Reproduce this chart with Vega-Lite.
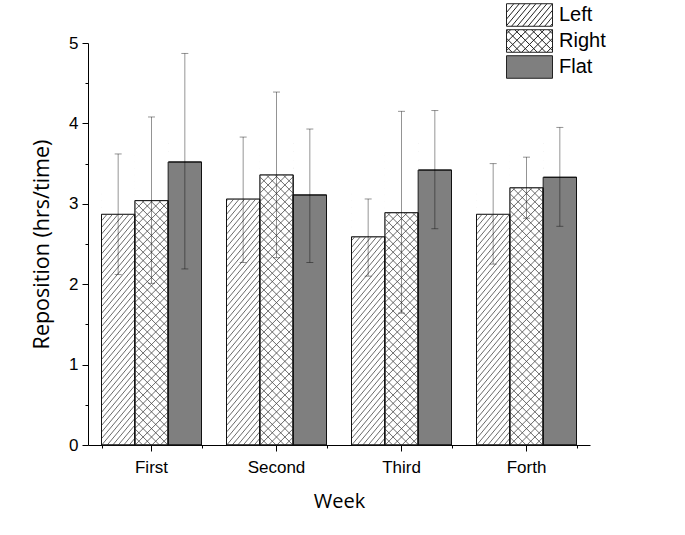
{
  "$schema": "https://vega.github.io/schema/vega-lite/v6.json",
  "width": 502,
  "height": 402,
  "autosize": {"type": "none"},
  "padding": {"left": 88, "top": 43, "right": 95, "bottom": 90},
  "background": "white",
  "config": {
    "view": {"stroke": null},
    "font": "Liberation Sans",
    "axis": {"grid": false, "domainColor": "#000", "tickColor": "#000", "labelColor": "#000", "titleColor": "#000", "labelFont": "Liberation Sans", "labelFontSize": 17, "titleFont": "Open Sans", "titleFontSize": 20, "titleFontWeight": "normal", "domainWidth": 1, "tickWidth": 1}
  },
  "data": {
    "values": [
      {"Week": "First", "Type": "Left", "Mean": 2.87, "Lo": 2.12, "Hi": 3.62},
      {"Week": "First", "Type": "Right", "Mean": 3.04, "Lo": 2.01, "Hi": 4.08},
      {"Week": "First", "Type": "Flat", "Mean": 3.52, "Lo": 2.19, "Hi": 4.87},
      {"Week": "Second", "Type": "Left", "Mean": 3.06, "Lo": 2.27, "Hi": 3.83},
      {"Week": "Second", "Type": "Right", "Mean": 3.36, "Lo": 2.33, "Hi": 4.39},
      {"Week": "Second", "Type": "Flat", "Mean": 3.11, "Lo": 2.27, "Hi": 3.93},
      {"Week": "Third", "Type": "Left", "Mean": 2.59, "Lo": 2.1, "Hi": 3.06},
      {"Week": "Third", "Type": "Right", "Mean": 2.89, "Lo": 1.64, "Hi": 4.15},
      {"Week": "Third", "Type": "Flat", "Mean": 3.42, "Lo": 2.69, "Hi": 4.16},
      {"Week": "Forth", "Type": "Left", "Mean": 2.87, "Lo": 2.25, "Hi": 3.5},
      {"Week": "Forth", "Type": "Right", "Mean": 3.2, "Lo": 2.82, "Hi": 3.58},
      {"Week": "Forth", "Type": "Flat", "Mean": 3.33, "Lo": 2.72, "Hi": 3.95}
    ]
  },
  "resolve": {"axis": {"x": "independent", "y": "independent"}},
  "layer": [
    {
      "mark": {"type": "bar", "stroke": "#111", "strokeWidth": 1},
      "encoding": {
        "x": {"field": "Week", "type": "nominal", "sort": ["First", "Second", "Third", "Forth"], "scale": {"paddingInner": 0.2, "paddingOuter": 0.108},
              "axis": {"orient": "bottom", "title": "Week", "labelAngle": 0, "tickSize": 6, "labelPadding": 8, "titlePadding": 16}},
        "xOffset": {"field": "Type", "type": "nominal", "sort": ["Left", "Right", "Flat"], "scale": {"domain": ["Left", "Right", "Flat"], "paddingInner": 0, "paddingOuter": 0}},
        "y": {"field": "Mean", "type": "quantitative", "scale": {"domain": [0, 5], "nice": false, "zero": true},
              "axis": {"orient": "left", "title": "Reposition (hrs/time)", "titleFontSize": 21.5, "values": [0, 1, 2, 3, 4, 5], "tickSize": 6, "labelPadding": 4, "titlePadding": 15}},
        "fill": {"field": "Type", "type": "nominal", "scale": {"domain": ["Left", "Right", "Flat"], "range": ["#ffffff", "#ffffff", "#7f7f7f"]},
                 "legend": {"title": null, "orient": "none", "legendX": 418, "legendY": -40, "symbolSize": 2116, "clipHeight": 24, "labelFontSize": 20, "labelFont": "Liberation Sans", "labelColor": "#000", "labelOffset": 6, "rowPadding": 2, "padding": 0, "symbolStrokeWidth": 1, "symbolStrokeColor": "#222",
                   "encode": {"symbols": {"update": {"stroke": {"value": "#222"}, "strokeWidth": {"value": 1}, "shape": {"signal": "datum.value === 'Left' ? 'M-1,-0.49H1V0.49H-1ZM-1,-0.11L-0.683,-0.49M-1,0.178L-0.443,-0.49M-1,0.466L-0.203,-0.49M-0.78,0.49L0.037,-0.49M-0.54,0.49L0.277,-0.49M-0.3,0.49L0.517,-0.49M-0.06,0.49L0.757,-0.49M0.18,0.49L0.997,-0.49M0.42,0.49L1,-0.206M0.66,0.49L1,0.082M0.9,0.49L1,0.37' : datum.value === 'Right' ? 'M-1,-0.49H1V0.49H-1ZM-1,-0.31L-0.82,-0.49M-1,0.055L-0.455,-0.49M-1,0.42L-0.09,-0.49M-0.705,0.49L0.275,-0.49M-0.34,0.49L0.64,-0.49M0.025,0.49L1,-0.485M0.39,0.49L1,-0.12M0.755,0.49L1,0.245M1,-0.31L0.82,-0.49M1,0.055L0.455,-0.49M1,0.42L0.09,-0.49M0.705,0.49L-0.275,-0.49M0.34,0.49L-0.64,-0.49M-0.025,0.49L-1,-0.485M-0.39,0.49L-1,-0.12M-0.755,0.49L-1,0.245' : 'M-1,-0.49H1V0.49H-1Z'"}}}}}}
      }
    },
    {
      "transform": [{"filter": "datum.Type === 'Left'"}],
      "mark": {"type": "point", "filled": false, "opacity": 1, "size": 4, "stroke": "#444", "strokeWidth": 0.8,
               "shape": "M-16.4,160.8l32.8,-39.36M-16.4,154.2l32.8,-39.36M-16.4,147.6l32.8,-39.36M-16.4,141l32.8,-39.36M-16.4,134.4l32.8,-39.36M-16.4,127.8l32.8,-39.36M-16.4,121.2l32.8,-39.36M-16.4,114.6l32.8,-39.36M-16.4,108l32.8,-39.36M-16.4,101.4l32.8,-39.36M-16.4,94.8l32.8,-39.36M-16.4,88.2l32.8,-39.36M-16.4,81.6l32.8,-39.36M-16.4,75l32.8,-39.36M-16.4,68.4l32.8,-39.36M-16.4,61.8l32.8,-39.36M-16.4,55.2l32.8,-39.36M-16.4,48.6l32.8,-39.36M-16.4,42l32.8,-39.36M-16.4,35.4l32.8,-39.36M-16.4,28.8l32.8,-39.36M-16.4,22.2l32.8,-39.36M-16.4,15.6l32.8,-39.36M-16.4,9l32.8,-39.36M-16.4,2.4l32.8,-39.36M-16.4,-4.2l32.8,-39.36M-16.4,-10.8l32.8,-39.36M-16.4,-17.4l32.8,-39.36M-16.4,-24l32.8,-39.36M-16.4,-30.6l32.8,-39.36M-16.4,-37.2l32.8,-39.36M-16.4,-43.8l32.8,-39.36M-16.4,-50.4l32.8,-39.36M-16.4,-57l32.8,-39.36M-16.4,-63.6l32.8,-39.36M-16.4,-70.2l32.8,-39.36M-16.4,-76.8l32.8,-39.36M-16.4,-83.4l32.8,-39.36M-16.4,-90l32.8,-39.36M-10.9,160.8l27.3,-32.76M-5.4,160.8l21.8,-26.16M0.1,160.8l16.3,-19.56M5.6,160.8l10.8,-12.96M11.1,160.8l5.3,-6.36"},
      "encoding": {
        "x": {"field": "Week", "type": "nominal", "sort": ["First", "Second", "Third", "Forth"], "scale": {"paddingInner": 0.2, "paddingOuter": 0.108}, "axis": null},
        "xOffset": {"field": "Type", "type": "nominal", "sort": ["Left", "Right", "Flat"], "scale": {"domain": ["Left", "Right", "Flat"], "paddingInner": 0, "paddingOuter": 0}},
        "y": {"datum": 2, "type": "quantitative", "axis": null}
      }
    },
    {
      "transform": [{"filter": "datum.Type === 'Right'"}],
      "mark": {"type": "point", "filled": false, "opacity": 1, "size": 4, "stroke": "#444", "strokeWidth": 0.8,
               "shape": "M-16.4,160.8l32.8,-32.8M-16.4,152.4l32.8,-32.8M-16.4,144l32.8,-32.8M-16.4,135.6l32.8,-32.8M-16.4,127.2l32.8,-32.8M-16.4,118.8l32.8,-32.8M-16.4,110.4l32.8,-32.8M-16.4,102l32.8,-32.8M-16.4,93.6l32.8,-32.8M-16.4,85.2l32.8,-32.8M-16.4,76.8l32.8,-32.8M-16.4,68.4l32.8,-32.8M-16.4,60l32.8,-32.8M-16.4,51.6l32.8,-32.8M-16.4,43.2l32.8,-32.8M-16.4,34.8l32.8,-32.8M-16.4,26.4l32.8,-32.8M-16.4,18l32.8,-32.8M-16.4,9.6l32.8,-32.8M-16.4,1.2l32.8,-32.8M-16.4,-7.2l32.8,-32.8M-16.4,-15.6l32.8,-32.8M-16.4,-24l32.8,-32.8M-16.4,-32.4l32.8,-32.8M-16.4,-40.8l32.8,-32.8M-16.4,-49.2l32.8,-32.8M-16.4,-57.6l32.8,-32.8M-16.4,-66l32.8,-32.8M-16.4,-74.4l32.8,-32.8M-16.4,-82.8l32.8,-32.8M-16.4,-91.2l32.8,-32.8M-16.4,-99.6l32.8,-32.8M-16.4,-108l32.8,-32.8M-16.4,-116.4l32.8,-32.8M16.4,160.8l-32.8,-32.8M16.4,152.4l-32.8,-32.8M16.4,144l-32.8,-32.8M16.4,135.6l-32.8,-32.8M16.4,127.2l-32.8,-32.8M16.4,118.8l-32.8,-32.8M16.4,110.4l-32.8,-32.8M16.4,102l-32.8,-32.8M16.4,93.6l-32.8,-32.8M16.4,85.2l-32.8,-32.8M16.4,76.8l-32.8,-32.8M16.4,68.4l-32.8,-32.8M16.4,60l-32.8,-32.8M16.4,51.6l-32.8,-32.8M16.4,43.2l-32.8,-32.8M16.4,34.8l-32.8,-32.8M16.4,26.4l-32.8,-32.8M16.4,18l-32.8,-32.8M16.4,9.6l-32.8,-32.8M16.4,1.2l-32.8,-32.8M16.4,-7.2l-32.8,-32.8M16.4,-15.6l-32.8,-32.8M16.4,-24l-32.8,-32.8M16.4,-32.4l-32.8,-32.8M16.4,-40.8l-32.8,-32.8M16.4,-49.2l-32.8,-32.8M16.4,-57.6l-32.8,-32.8M16.4,-66l-32.8,-32.8M16.4,-74.4l-32.8,-32.8M16.4,-82.8l-32.8,-32.8M16.4,-91.2l-32.8,-32.8M16.4,-99.6l-32.8,-32.8M16.4,-108l-32.8,-32.8M16.4,-116.4l-32.8,-32.8M-8,160.8l24.4,-24.4M0.4,160.8l16,-16M8.8,160.8l7.6,-7.6M8,160.8l-24.4,-24.4M-0.4,160.8l-16,-16M-8.8,160.8l-7.6,-7.6"},
      "encoding": {
        "x": {"field": "Week", "type": "nominal", "sort": ["First", "Second", "Third", "Forth"], "scale": {"paddingInner": 0.2, "paddingOuter": 0.108}, "axis": null},
        "xOffset": {"field": "Type", "type": "nominal", "sort": ["Left", "Right", "Flat"], "scale": {"domain": ["Left", "Right", "Flat"], "paddingInner": 0, "paddingOuter": 0}},
        "y": {"datum": 2, "type": "quantitative", "axis": null}
      }
    },
    {
      "transform": [{"filter": "datum.Type !== 'Flat'"}],
      "mark": {"type": "bar", "fill": "white", "stroke": "white", "strokeWidth": 0.8},
      "encoding": {
        "x": {"field": "Week", "type": "nominal", "sort": ["First", "Second", "Third", "Forth"], "scale": {"paddingInner": 0.2, "paddingOuter": 0.108}, "axis": null},
        "xOffset": {"field": "Type", "type": "nominal", "sort": ["Left", "Right", "Flat"], "scale": {"domain": ["Left", "Right", "Flat"], "paddingInner": 0, "paddingOuter": 0}},
        "y": {"field": "Mean", "type": "quantitative", "axis": null},
        "y2": {"datum": 5}
      }
    },
    {
      "mark": {"type": "bar", "fill": "transparent", "stroke": "#111", "strokeWidth": 1},
      "encoding": {
        "x": {"field": "Week", "type": "nominal", "sort": ["First", "Second", "Third", "Forth"], "scale": {"paddingInner": 0.2, "paddingOuter": 0.108},
              "axis": {"orient": "bottom", "title": null, "labels": false, "domain": false, "tickBand": "extent", "tickSize": 3}},
        "xOffset": {"field": "Type", "type": "nominal", "sort": ["Left", "Right", "Flat"], "scale": {"domain": ["Left", "Right", "Flat"], "paddingInner": 0, "paddingOuter": 0}},
        "y": {"field": "Mean", "type": "quantitative",
              "axis": {"orient": "left", "title": null, "labels": false, "domain": false, "values": [0.5, 1.5, 2.5, 3.5, 4.5], "tickSize": 3}}
      }
    },
    {
      "mark": {"type": "rule", "stroke": "#000", "strokeOpacity": 0.42, "strokeWidth": 1},
      "encoding": {
        "x": {"field": "Week", "type": "nominal", "sort": ["First", "Second", "Third", "Forth"], "scale": {"paddingInner": 0.2, "paddingOuter": 0.108}, "axis": null},
        "xOffset": {"field": "Type", "type": "nominal", "sort": ["Left", "Right", "Flat"], "scale": {"domain": ["Left", "Right", "Flat"], "paddingInner": 0, "paddingOuter": 0}},
        "y": {"field": "Lo", "type": "quantitative", "axis": null},
        "y2": {"field": "Hi"}
      }
    },
    {
      "mark": {"type": "tick", "color": "#000", "opacity": 0.42, "size": 7, "thickness": 1},
      "encoding": {
        "x": {"field": "Week", "type": "nominal", "sort": ["First", "Second", "Third", "Forth"], "scale": {"paddingInner": 0.2, "paddingOuter": 0.108}, "axis": null},
        "xOffset": {"field": "Type", "type": "nominal", "sort": ["Left", "Right", "Flat"], "scale": {"domain": ["Left", "Right", "Flat"], "paddingInner": 0, "paddingOuter": 0}},
        "y": {"field": "Hi", "type": "quantitative", "axis": null}
      }
    },
    {
      "mark": {"type": "tick", "color": "#000", "opacity": 0.42, "size": 7, "thickness": 1},
      "encoding": {
        "x": {"field": "Week", "type": "nominal", "sort": ["First", "Second", "Third", "Forth"], "scale": {"paddingInner": 0.2, "paddingOuter": 0.108}, "axis": null},
        "xOffset": {"field": "Type", "type": "nominal", "sort": ["Left", "Right", "Flat"], "scale": {"domain": ["Left", "Right", "Flat"], "paddingInner": 0, "paddingOuter": 0}},
        "y": {"field": "Lo", "type": "quantitative", "axis": null}
      }
    }
  ]
}
